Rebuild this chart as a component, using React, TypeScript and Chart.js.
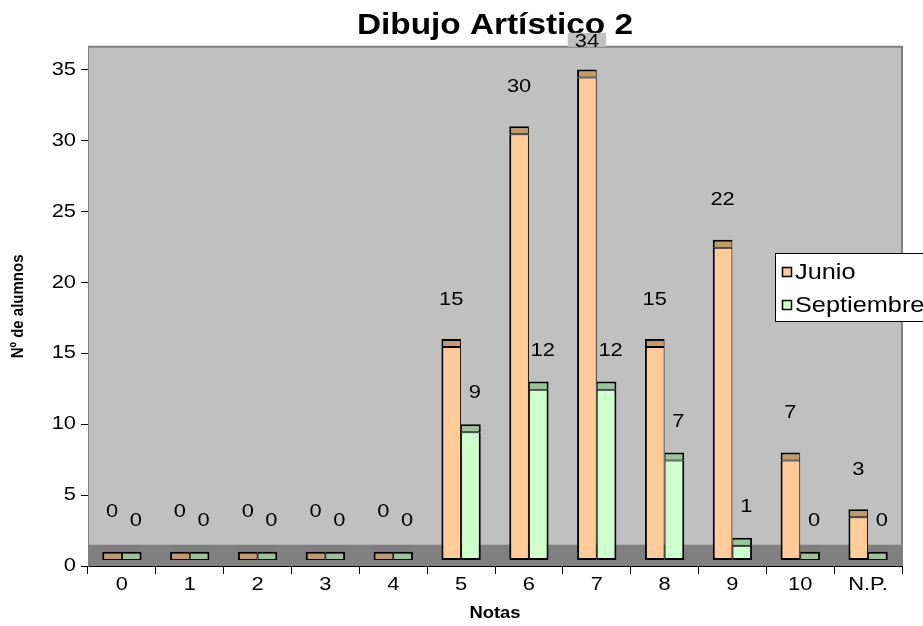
import React, { useEffect, useRef } from "react";
import { Chart, registerables } from "chart.js";
Chart.register(...registerables);

const title = "Dibujo Artístico 2";
const xTitle = "Notas";
const yTitle = "Nº de alumnos";
const categories = ["0", "1", "2", "3", "4", "5", "6", "7", "8", "9", "10", "N.P."];
const seriesNames = ["Junio", "Septiembre"];
const junio = [0, 0, 0, 0, 0, 15, 30, 34, 15, 22, 7, 3];
const septiembre = [0, 0, 0, 0, 0, 9, 12, 12, 7, 1, 0, 0];
const yTicks = [0, 5, 10, 15, 20, 25, 30, 35];

// 3D look (data units): bar front starts above the floor edge, cap sits on top
const FRONT_BASE = 0.42;
const CAP_START = 0.43;
const CAP_END = 1.0;
const FLOOR_TOP = 1.5;
const Y_MAX = 36.6;

// the reference text is drawn slightly wider than tall
const SX = 1.15;

const FONT = "'Liberation Sans', Arial, Helvetica, sans-serif";
const colors = {
  junioFront: "#FFCC99",
  junioCap: "#C49A6C",
  septFront: "#CCFFCC",
  septCap: "#9CC49C",
  wall: "#C0C0C0",
  floor: "#808080",
};

function stretchText(ctx: any) {
  if (ctx.__stretched) return;
  ctx.__stretched = true;
  const orig = ctx.fillText.bind(ctx);
  ctx.fillText = function (text: string, x: number, y: number, maxWidth?: number) {
    const m = ctx.getTransform();
    const p = m.transformPoint(new DOMPoint(x, y));
    ctx.save();
    const s = new DOMMatrix().translate(p.x, p.y).scale(SX, 1).translate(-p.x, -p.y).multiply(m);
    ctx.setTransform(s);
    if (maxWidth === undefined || maxWidth === null) orig(text, x, y);
    else orig(text, x, y, maxWidth);
    ctx.restore();
  };
}

const bgPlugin = {
  id: "wallFloor",
  beforeDraw(chart: any) {
    const { ctx, chartArea } = chart;
    const y = chart.scales.y;
    ctx.save();
    ctx.fillStyle = colors.wall;
    ctx.fillRect(chartArea.left, chartArea.top, chartArea.right - chartArea.left, chartArea.bottom - chartArea.top);
    const fy = y.getPixelForValue(FLOOR_TOP);
    ctx.fillStyle = colors.floor;
    ctx.fillRect(chartArea.left, fy, chartArea.right - chartArea.left, chartArea.bottom - fy);
    ctx.strokeStyle = "#808080";
    ctx.lineWidth = 2;
    ctx.beginPath();
    ctx.moveTo(chartArea.left, chartArea.top);
    ctx.lineTo(chartArea.right, chartArea.top);
    ctx.lineTo(chartArea.right, chartArea.bottom);
    ctx.stroke();
    ctx.restore();
  },
};

const labelPlugin = {
  id: "valueLabels",
  afterDatasetsDraw(chart: any) {
    const { ctx, chartArea } = chart;
    const y = chart.scales.y;
    ctx.save();
    ctx.font = `19px ${FONT}`;
    ctx.textAlign = "center";
    ctx.textBaseline = "middle";
    const specs = [
      { ds: 0, vals: junio, dy: 3.8, dx: 0 },
      { ds: 2, vals: septiembre, dy: 3.2, dx: 4 },
    ];
    for (const s of specs) {
      const meta = chart.getDatasetMeta(s.ds);
      s.vals.forEach((v, i) => {
        const el = meta.data[i];
        if (!el) return;
        let py = y.getPixelForValue(v + s.dy);
        if (py < chartArea.top - 5) py = chartArea.top - 5;
        const px = el.x + s.dx;
        const text = String(v);
        if (py - 8 < chartArea.top) {
          const w = ctx.measureText(text).width * SX;
          ctx.fillStyle = colors.wall;
          ctx.fillRect(px - w / 2 - 7, py - 9, w + 14, chartArea.top - (py - 9));
        }
        ctx.fillStyle = "#000";
        ctx.fillText(text, px, py);
      });
    }
    ctx.restore();
  },
};

const legendPlugin = {
  id: "boxLegend",
  afterDraw(chart: any) {
    const { ctx } = chart;
    ctx.save();
    const x0 = 775, y0 = 253, w = 170, h = 68;
    ctx.fillStyle = "#fff";
    ctx.fillRect(x0, y0, w, h);
    ctx.strokeStyle = "#000";
    ctx.lineWidth = 1;
    ctx.strokeRect(x0 + 0.5, y0 + 0.5, w, h);
    const items = [
      { name: seriesNames[0], color: colors.junioFront, cy: 272 },
      { name: seriesNames[1], color: colors.septFront, cy: 305 },
    ];
    ctx.font = `22px ${FONT}`;
    ctx.textBaseline = "middle";
    ctx.textAlign = "left";
    for (const it of items) {
      ctx.fillStyle = it.color;
      ctx.fillRect(782, it.cy - 5, 10, 10);
      ctx.strokeStyle = "#000";
      ctx.lineWidth = 1.5;
      ctx.strokeRect(782.5, it.cy - 4.5, 9, 9);
      ctx.fillStyle = "#000";
      ctx.fillText(it.name, 795, it.cy + 1);
    }
    ctx.restore();
  },
};

export default function App() {
  const ref = useRef<HTMLCanvasElement | null>(null);
  useEffect(() => {
    if (!ref.current) return;
    Chart.defaults.font.family = FONT;
    const ctx2d = ref.current.getContext("2d");
    stretchText(ctx2d);
    const chart = new Chart(ctx2d as any, {
      type: "bar",
      data: {
        labels: categories,
        datasets: [
          {
            label: seriesNames[0],
            data: junio.map((v) => [FRONT_BASE, v + CAP_START]) as any,
            backgroundColor: colors.junioFront,
            borderColor: "#000",
            borderWidth: { left: 2, right: 1, top: 1, bottom: 2 } as any,
            borderSkipped: false,
            stack: "j",
          },
          {
            label: seriesNames[0] + " cap",
            data: junio.map((v) => [v + CAP_START, v + CAP_END]) as any,
            backgroundColor: colors.junioCap,
            borderColor: "#000",
            borderWidth: { left: 2, right: 1, top: 2, bottom: 1 } as any,
            borderSkipped: false,
            stack: "j",
          },
          {
            label: seriesNames[1],
            data: septiembre.map((v) => [FRONT_BASE, v + CAP_START]) as any,
            backgroundColor: colors.septFront,
            borderColor: "#000",
            borderWidth: { left: 1, right: 2, top: 1, bottom: 2 } as any,
            borderSkipped: false,
            stack: "s",
          },
          {
            label: seriesNames[1] + " cap",
            data: septiembre.map((v) => [v + CAP_START, v + CAP_END]) as any,
            backgroundColor: colors.septCap,
            borderColor: "#000",
            borderWidth: { left: 1, right: 2, top: 2, bottom: 1 } as any,
            borderSkipped: false,
            stack: "s",
          },
        ],
      },
      options: {
        responsive: false,
        animation: false,
        layout: { padding: { left: 0, right: 21, top: 0, bottom: 0 } },
        datasets: { bar: { categoryPercentage: 0.58, barPercentage: 1 } } as any,
        plugins: {
          legend: { display: false },
          tooltip: { enabled: false },
          title: {
            display: true,
            text: title,
            color: "#000",
            font: { family: FONT, size: 29, weight: "bold" },
            padding: { top: 9, bottom: 3 },
            fullSize: false,
          } as any,
        },
        scales: {
          x: {
            offset: true,
            grid: { display: true, drawOnChartArea: false, drawTicks: true, tickLength: 8, color: "#000", offset: true },
            border: { display: true, color: "#000", width: 1 },
            ticks: { color: "#000", font: { family: FONT, size: 19 }, padding: -1, maxRotation: 0, autoSkip: false },
            title: { display: true, text: xTitle, color: "#000", font: { family: FONT, size: 16, weight: "bold" }, padding: { top: 0, bottom: 3 } },
            afterFit: (s: any) => { s.height = 60; },
          },
          y: {
            min: 0,
            max: Y_MAX,
            stacked: false,
            grid: { display: true, drawOnChartArea: false, drawTicks: true, tickLength: 7, color: "#000" },
            border: { display: true, color: "#808080", width: 1 },
            ticks: { color: "#000", font: { family: FONT, size: 19 }, padding: 5 },
            afterBuildTicks: (s: any) => { s.ticks = yTicks.map((v) => ({ value: v })); },
            title: { display: true, text: yTitle, color: "#000", font: { family: FONT, size: 15, weight: "bold" }, padding: { top: 9, bottom: 0 } },
            afterFit: (s: any) => { s.width = 88; },
          },
        },
      },
      plugins: [bgPlugin, labelPlugin, legendPlugin],
    });
    return () => chart.destroy();
  }, []);
  return (
    <div style={{ position: "fixed", left: 0, top: 0, width: 923, height: 626, background: "#fff" }}>
      <canvas ref={ref} width={923} height={626} style={{ display: "block" }} />
    </div>
  );
}
